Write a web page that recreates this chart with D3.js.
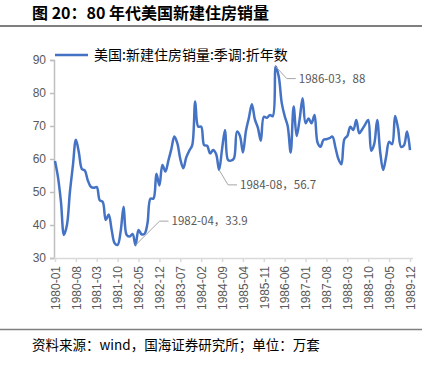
<!DOCTYPE html>
<html>
<head>
<meta charset="utf-8">
<script src="https://cdn.jsdelivr.net/npm/d3@7"></script>
<style>
  body { margin: 0; background: #fff; }
  svg { display: block; }
</style>
</head>
<body>
<div id="chart"></div>
<script>
// monthly new home sales, SAAR, 10k units, 1980-01 .. 1989-12
const sales1980 = [59.4, 54.5, 47, 37, 40, 50, 58, 65.8, 62, 57, 56.5, 53.5];
const sales1981 = [51.6, 51.3, 51.5, 47.5, 47, 41.5, 43.2, 38.5, 34.5, 34, 38, 45.5];
const sales1982 = [37, 36.5, 37.3, 33.9, 38.5, 37.2, 37.3, 40.5, 48, 48, 55.5, 52];
const sales1983 = [58.2, 56.2, 59.5, 63, 66.8, 64.8, 60, 57.2, 60.5, 62.5, 64.2, 77.4];
const sales1984 = [69.8, 69.8, 64.2, 64, 61.7, 62.7, 61.5, 56.7, 63, 68.8, 59.7, 59.5];
const sales1985 = [60.2, 68.3, 67, 62, 68.5, 72.5, 76.6, 72, 69.5, 65.5, 72.8, 72.5];
const sales1986 = [73.3, 73, 88, 85, 77, 73, 70, 62, 75.9, 67, 72, 78.4];
const sales1987 = [70.8, 72.3, 70.8, 73.3, 65, 63.7, 65.8, 66, 66.3, 66.8, 63.5, 60];
const sales1988 = [58.4, 66, 67, 69.8, 68.8, 71.8, 67.8, 69, 70.5, 71.8, 62.5, 64.5];
const sales1989 = [71.8, 62.2, 56.7, 60.7, 65.2, 64.5, 73, 69.3, 63.7, 64.2, 68.3, 62.7];

const tickLabels = ["1980-01", "1980-08", "1981-03", "1981-10", "1982-05", "1982-12",
  "1983-07", "1984-02", "1984-09", "1985-04", "1985-11", "1986-06", "1987-01",
  "1987-08", "1988-03", "1988-10", "1989-05", "1989-12"];
const yTicks = [30, 40, 50, 60, 70, 80, 90];

const noteDates = ["1982-04", "1984-08", "1986-03"];
const noteTexts = ["1982-04，33.9", "1984-08，56.7", "1986-03，88"];

const titleText = "图 20：80 年代美国新建住房销量";
const legendText = "美国:新建住房销量:季调:折年数";
const sourceText = "资料来源：wind，国海证券研究所；单位：万套";

// ---- build
const sales = [].concat(sales1980, sales1981, sales1982, sales1983, sales1984,
  sales1985, sales1986, sales1987, sales1988, sales1989);
const months = [];
for (let y = 1980; y <= 1989; y++) {
  for (let m = 1; m <= 12; m++) months.push(y + "-" + (m < 10 ? "0" + m : m));
}
const data = months.map((d, i) => ({ date: d, value: sales[i] }));

const w = 435, h = 368;
const svg = d3.select("#chart").append("svg")
  .attr("width", w).attr("height", h);

const x = d3.scalePoint().domain(months).range([55, 410]);
const y = d3.scaleLinear().domain([30, 90]).range([258, 60]);

// title
svg.append("text")
  .attr("x", 32).attr("y", 19)
  .attr("font-family", "'Noto Sans CJK SC', sans-serif")
  .attr("font-weight", "bold")
  .attr("font-size", 16)
  .attr("fill", "#000")
  .text(titleText);
svg.append("line")
  .attr("x1", 0).attr("x2", 422).attr("y1", 26).attr("y2", 26)
  .attr("stroke", "#7f7f7f").attr("stroke-width", 2);

// y axis
const yAxis = d3.axisLeft(y).tickValues(yTicks).tickSize(4).tickPadding(4);
const gy = svg.append("g")
  .attr("transform", "translate(54,0)")
  .call(yAxis);
gy.select(".domain").attr("stroke", "#bfbfbf").attr("stroke-width", 1.5);
gy.selectAll(".tick line").attr("stroke", "#bfbfbf").attr("stroke-width", 1.5);
gy.selectAll(".tick text")
  .attr("font-family", "'Liberation Sans', Arial, sans-serif")
  .attr("font-size", 12).attr("fill", "#595959");

// x axis
const xAxis = d3.axisBottom(x).tickValues(tickLabels).tickSize(4).tickSizeOuter(0);
const gx = svg.append("g")
  .attr("transform", "translate(0,258)")
  .call(xAxis);
gx.select(".domain").attr("stroke", "#d9d9d9").attr("stroke-width", 1.5)
  .attr("d", "M54,0.5H413");
gx.selectAll(".tick line").attr("stroke", "#d9d9d9").attr("stroke-width", 1.5);
gx.selectAll(".tick text")
  .attr("font-family", "'Liberation Sans', Arial, sans-serif")
  .attr("font-size", 12).attr("fill", "#595959")
  .attr("transform", "rotate(-90)")
  .attr("text-anchor", "end")
  .attr("x", -8).attr("y", 0).attr("dy", "0.35em");

// series
const line = d3.line()
  .x(d => x(d.date))
  .y(d => y(d.value))
  .curve(d3.curveCatmullRom.alpha(0.5));
svg.append("path")
  .datum(data)
  .attr("fill", "none")
  .attr("stroke", "#4472c4")
  .attr("stroke-width", 2.5)
  .attr("stroke-linejoin", "round")
  .attr("d", line);

// annotations
const noteOffsets = [[24, -24], [9, 15], [11, 12]];
noteDates.forEach((dt, i) => {
  const d = data.find(e => e.date === dt);
  const px = x(d.date), py = y(d.value);
  const [dx, dy] = noteOffsets[i];
  svg.append("path")
    .attr("d", `M${px},${py}L${px + dx},${py + dy}H${px + dx + 9}`)
    .attr("fill", "none").attr("stroke", "#a6a6a6").attr("stroke-width", 1);
  svg.append("text")
    .attr("x", px + dx + 12).attr("y", py + dy)
    .attr("dy", "0.35em")
    .attr("font-family", "'Noto Sans CJK SC', sans-serif")
    .attr("font-size", 11.5).attr("fill", "#595959")
    .text(noteTexts[i]);
});

// legend
svg.append("line")
  .attr("x1", 55).attr("x2", 88).attr("y1", 55).attr("y2", 55)
  .attr("stroke", "#4472c4").attr("stroke-width", 2.5);
svg.append("text")
  .attr("x", 94).attr("y", 55).attr("dy", "0.35em")
  .attr("font-family", "'Noto Sans CJK SC', serif")
  .attr("font-size", 14).attr("fill", "#000")
  .text(legendText);

// source
svg.append("line")
  .attr("x1", 0).attr("x2", 422).attr("y1", 329.5).attr("y2", 329.5)
  .attr("stroke", "#7f7f7f").attr("stroke-width", 1.5);
svg.append("text")
  .attr("x", 32).attr("y", 345).attr("dy", "0.35em")
  .attr("font-family", "'Noto Sans CJK SC', sans-serif")
  .attr("font-size", 13.5).attr("fill", "#000")
  .text(sourceText);
</script>
</body>
</html>
